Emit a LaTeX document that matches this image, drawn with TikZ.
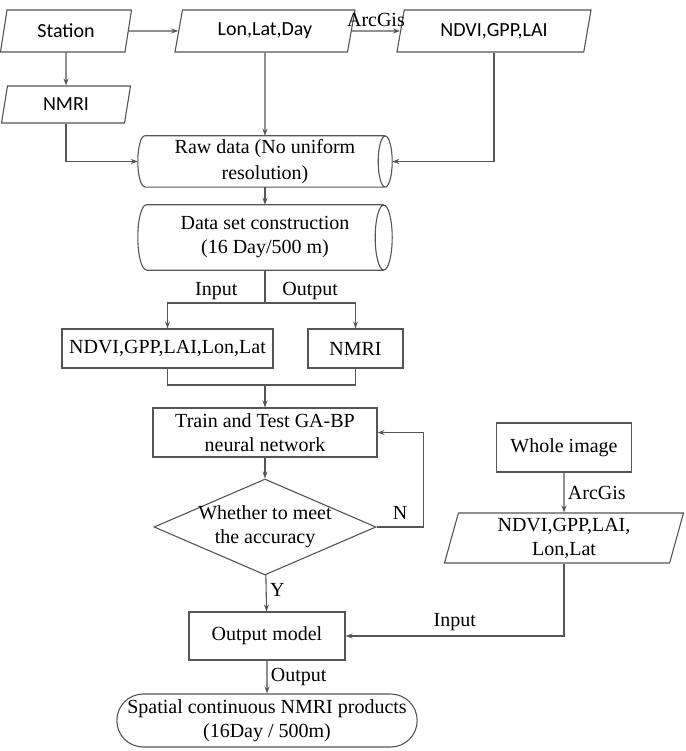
\documentclass[tikz,border=0pt]{standalone}
\usepackage{fontspec}
\setmainfont{Liberation Serif}
\newfontfamily\calibri{Carlito}
\usetikzlibrary{shapes.geometric,shapes.misc,arrows.meta}
\definecolor{linegray}{HTML}{555555}

\tikzset{
  line/.style={draw=linegray, line width=1.1pt},
  flow/.style={line, -{Stealth[length=7pt,width=5pt]}},
  para/.style={trapezium, trapezium left angle=65, trapezium right angle=115,
    trapezium stretches body, line, inner sep=0pt, align=center},
  calpara/.style={para, font=\calibri\fontsize{20}{24}\selectfont},
  drumbox/.style={rectangle, inner sep=0pt, align=center},
  procbox/.style={rectangle, line, inner sep=0pt, align=center},
  decide/.style={diamond, shape aspect=2.3, line, inner sep=-1.5pt, align=center},
  endbox/.style={rounded rectangle, line, inner sep=0pt, align=center},
}
% outline of a lying cylinder round a drumbox node: name, end radius, half height
\newcommand\drumline[3]{%
  \draw[line] ([xshift=#2]#1.north west) -- ([xshift=-#2]#1.north east)
    ([xshift=#2]#1.south west) -- ([xshift=-#2]#1.south east)
    ([xshift=-#2]#1.east) ellipse[x radius=#2, y radius=#3]
    ([xshift=#2]#1.north west) arc[start angle=90, end angle=270, x radius=#2, y radius=#3];}

\begin{document}
\begin{tikzpicture}[x=1pt, y=-1pt, font=\fontsize{20}{24}\selectfont]
  \useasboundingbox (0,0) rectangle (685,751);
  % top row
  \node[calpara, minimum width=131, minimum height=42] (station) at (66,31) {Station};
  \node[calpara, minimum width=180, minimum height=42] (lld) at (265,31) {Lon,Lat,Day};
  \node[calpara, minimum width=194, minimum height=42] (ndvi) at (494,31) {NDVI,GPP,LAI};
  \node[calpara, minimum width=129, minimum height=37] (nmri) at (66,104.5) {NMRI};
  % data preparation
  \node[drumbox, minimum width=254, minimum height=51] (raw) at (265,161.5) {Raw data (No uniform\\[2pt]resolution)};
  \drumline{raw}{7pt}{25.5pt}
  \node[drumbox, minimum width=254, minimum height=65] (dataset) at (265,237.5) {Data set construction\\(16 Day/500 m)};
  \drumline{dataset}{8.5pt}{32.5pt}
  \node[procbox, minimum width=211, minimum height=39] (feat) at (167.5,348.5) {NDVI,GPP,LAI,Lon,Lat};
  \node[procbox, minimum width=95, minimum height=39] (label) at (355.5,348.5) {NMRI};
  \coordinate (split) at (265,303);
  \coordinate (join) at (265,385);
  % training loop
  \node[procbox, minimum width=224, minimum height=49] (train) at (265,432.5) {Train and Test GA-BP\\neural network};
  \node[decide, minimum width=222, minimum height=96] (check) at (265,527) {Whether to meet\\the accuracy};
  \node[procbox, minimum width=156, minimum height=48] (model) at (267,636) {Output model};
  \node[endbox, minimum width=298, minimum height=53] (product) at (267,720.5) {Spatial continuous NMRI products\\(16Day / 500m)};
  % whole image branch
  \node[procbox, minimum width=135, minimum height=49] (whole) at (564,447.5) {Whole image};
  \node[para, trapezium left angle=71, trapezium right angle=109, minimum width=239, minimum height=50] (wholein) at (564,538) {NDVI,GPP,LAI,\\Lon,Lat};

  \draw[flow] (station) -- (lld);
  \draw[flow] (lld) -- node[above=0pt]{ArcGis} (ndvi);
  \draw[flow] (station) -- (nmri);
  \draw[flow] (lld) -- (raw);
  \draw[flow] (nmri.south) |- (raw.west);
  \draw[flow] (ndvi.south) |- (raw.east);
  \draw[flow] (raw) -- (dataset);
  \draw[line] (dataset.south) -- (split);
  \draw[flow] (split) -| node[pos=.25, above=-1pt]{Input} (feat);
  \draw[flow] (split) -| node[pos=.25, above=-1pt]{Output} (label);
  \draw[line] (feat.south) |- (join) -| (label.south);
  \draw[flow] (join) -- (train);
  \draw[flow] (train) -- (check);
  \draw[flow] (check.east) -| node[pos=.25, above=4pt]{N} ([xshift=46pt]train.east) -- (train.east);
  \draw[flow] (check) -- node[right, pos=.4]{Y} (model);
  \draw[flow] (whole) -- node[right]{ArcGis} (wholein);
  \draw[flow] (wholein.south) |- node[pos=.75, above=1pt]{Input} (model.east);
  \draw[flow] (model) -- node[right]{Output} (product);
\end{tikzpicture}
\end{document}
